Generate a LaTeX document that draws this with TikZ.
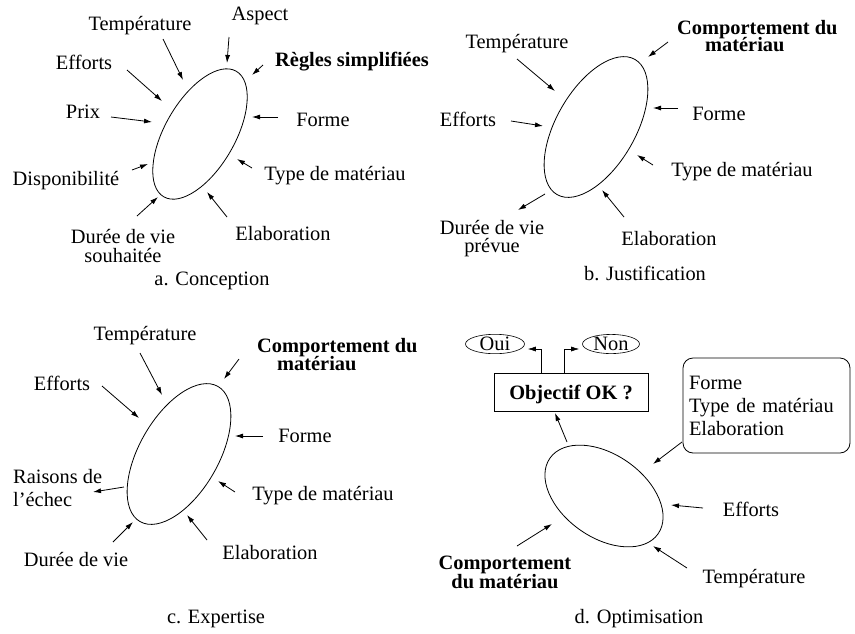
\documentclass[tikz,border=0pt]{standalone}
\usepackage{fontspec}
\setmainfont{Liberation Serif}
\usetikzlibrary{shapes.geometric,arrows.meta}
\begin{document}
\begin{tikzpicture}[x=1pt,y=-1pt,
  txt/.style={font=\fontsize{20.4pt}{23pt}\selectfont},
  lbl/.style={txt, inner sep=0pt, anchor=base},
  lblw/.style={txt, inner sep=0pt, anchor=base west, align=left},
  arr/.style={-{Latex[length=8pt,width=5pt]}, line width=0.8pt},
  blob/.style={draw, ellipse, line width=0.8pt, inner sep=0pt}]
\useasboundingbox (0,0) rectangle (855,633);

% ---------------- a. Conception ----------------
\node[blob, minimum width=145, minimum height=70, rotate=60] (ea) at (200,134) {};
\node[lbl] (aTemp) at (140,30.7) {Température};
\node[lbl] (aAsp) at (260,20.7) {Aspect};
\node[lbl, font=\fontsize{20.4pt}{23pt}\selectfont\bfseries] (aRegl) at (352,66) {Règles simplifiées};
\node[lbl] (aEff) at (84,69.3) {Efforts};
\node[lbl] (aPrix) at (83,118.3) {Prix};
\node[lbl] (aForme) at (323,126) {Forme};
\node[lbl] (aDispo) at (66,185) {Disponibilité};
\node[lbl] (aType) at (335,180) {Type de matériau};
\node[lbl, align=center] (aDuree) at (123,262) {Durée de vie\\[-4pt]souhaitée};
\node[lbl] (aElab) at (283,240.7) {Elaboration};
\node[lbl] (aCap) at (212,285) {a. Conception};

\coordinate (a1s) at (163,39);  \coordinate (a1e) at (183,80);
\coordinate (a2s) at (229,37);  \coordinate (a2e) at (227,63);
\coordinate (a3s) at (263,65);  \coordinate (a3e) at (252,75);
\coordinate (a4s) at (127,70);  \coordinate (a4e) at (162,101);
\coordinate (a5s) at (111,117); \coordinate (a5e) at (152,122);
\coordinate (a6s) at (278,117); \coordinate (a6e) at (252,117);
\coordinate (a7s) at (132,170); \coordinate (a7e) at (148,164);
\coordinate (a8s) at (252,168); \coordinate (a8e) at (237,159);
\coordinate (a9s) at (137,216); \coordinate (a9e) at (158,197);
\coordinate (a10s) at (227,217); \coordinate (a10e) at (207,192);
\foreach \i in {1,...,10} \draw[arr] (a\i s) -- (a\i e);

% ---------------- b. Justification ----------------
\node[blob, minimum width=156, minimum height=79, rotate=60] (eb) at (596,127) {};
\node[lbl] (bTemp) at (517,48.3) {Température};
\node[lblw, font=\fontsize{20.4pt}{23pt}\selectfont\bfseries] (bComp) at (677,51) {Comportement du\\[-6pt]\hspace*{28pt}matériau};
\node[lbl] (bEff) at (468,126) {Efforts};
\node[lbl] (bForme) at (719,120) {Forme};
\node[lbl] (bType) at (742,176.7) {Type de matériau};
\node[lbl, align=center] (bDuree) at (492,252) {Durée de vie\\[-5pt]prévue};
\node[lbl] (bElab) at (669,245) {Elaboration};
\node[lbl] (bCap) at (645,280) {b. Justification};

\coordinate (b1s) at (517,59);  \coordinate (b1e) at (555,91);
\coordinate (b2s) at (668,42);  \coordinate (b2e) at (648,57);
\coordinate (b3s) at (511,121); \coordinate (b3e) at (543,126);
\coordinate (b4s) at (678,108); \coordinate (b4e) at (653,108);
\coordinate (b5s) at (653,165); \coordinate (b5e) at (637,155);
\coordinate (b6s) at (545,194); \coordinate (b6e) at (518,210);
\coordinate (b7s) at (624,217); \coordinate (b7e) at (602,190);
\foreach \i in {1,...,7} \draw[arr] (b\i s) -- (b\i e);

% ---------------- c. Expertise ----------------
\node[blob, minimum width=156, minimum height=79, rotate=60] (ec) at (179,454) {};
\node[lbl] (cTemp) at (145,340) {Température};
\node[lblw, font=\fontsize{20.4pt}{23pt}\selectfont\bfseries] (cComp) at (257,370) {Comportement du\\[-5pt]\hspace*{20pt}matériau};
\node[lbl] (cEff) at (62,390.7) {Efforts};
\node[lbl] (cForme) at (305,442.7) {Forme};
\node[lblw] (cRais) at (13,506.7) {Raisons de\\l’échec};
\node[lbl] (cType) at (323,500.7) {Type de matériau};
\node[lbl] (cDuree) at (76,566) {Durée de vie};
\node[lbl] (cElab) at (270,559.3) {Elaboration};
\node[lbl] (cCap) at (216,623.3) {c. Expertise};

\coordinate (c1s) at (140,353); \coordinate (c1e) at (162,395);
\coordinate (c2s) at (239,359); \coordinate (c2e) at (224,379);
\coordinate (c3s) at (102,386); \coordinate (c3e) at (139,418);
\coordinate (c4s) at (263,436); \coordinate (c4e) at (235,436);
\coordinate (c5s) at (124,487); \coordinate (c5e) at (93,492);
\coordinate (c6s) at (235,492); \coordinate (c6e) at (218,481);
\coordinate (c7s) at (113,542); \coordinate (c7e) at (133,522);
\coordinate (c8s) at (207,540); \coordinate (c8e) at (187,515);
\foreach \i in {1,...,8} \draw[arr] (c\i s) -- (c\i e);

% ---------------- d. Optimisation ----------------
\node[blob, minimum width=132, minimum height=83, rotate=-35] (ed) at (604,496) {};
\node[draw, ellipse, txt, inner sep=0pt, minimum width=59, minimum height=19, line width=0.6pt] (oui) at (495,344) {Oui};
\node[draw, ellipse, txt, inner sep=0pt, minimum width=57, minimum height=19, line width=0.6pt] (non) at (611,344) {Non};
\node[draw, font=\fontsize{20.4pt}{23pt}\selectfont\bfseries, inner sep=0pt, text depth=0pt,
      minimum width=154, minimum height=38, line width=0.6pt] (obj) at (571,392) {Objectif OK ?};
\node[draw, txt, rounded corners=10pt, line width=0.8pt, inner sep=6pt, text width=155pt,
      align=left, minimum height=95] (box) at (766.5,405.5) {Forme\\Type de matériau\\Elaboration};
\node[lbl] (dEff) at (751,516.7) {Efforts};
\node[lbl] (dTemp) at (754,583.3) {Température};
\node[lbl, align=center, font=\fontsize{20.4pt}{23pt}\selectfont\bfseries] (dComp) at (505,588.3) {Comportement\\[-4pt]du matériau};
\node[lbl] (dCap) at (639,623.3) {d. Optimisation};

\draw[arr, line width=0.6pt, shorten >=3pt] ([xshift=-30pt]obj.north) |- ([yshift=-5pt]oui.east);
\draw[arr, line width=0.6pt, shorten >=3pt] ([xshift=-7pt]obj.north) |- ([yshift=-5pt]non.west);

\coordinate (d1s) at (567,442); \coordinate (d1e) at (555,413);
\coordinate (d2s) at (682,442); \coordinate (d2e) at (653,464);
\coordinate (d3s) at (703,508); \coordinate (d3e) at (671,505);
\coordinate (d4s) at (687,568); \coordinate (d4e) at (653,546);
\coordinate (d5s) at (517,546); \coordinate (d5e) at (552,524);
\foreach \i in {1,...,5} \draw[arr] (d\i s) -- (d\i e);
\end{tikzpicture}
\end{document}
